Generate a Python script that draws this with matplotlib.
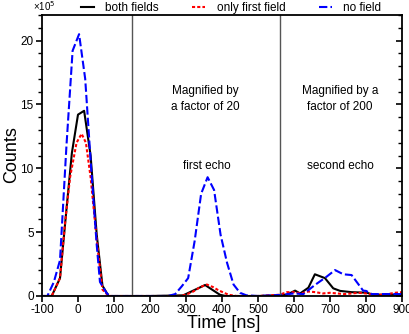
import matplotlib
matplotlib.use('Agg')
import matplotlib.pyplot as plt
from matplotlib.ticker import MultipleLocator

plt.rcParams['font.family'] = ['Liberation Sans', 'DejaVu Sans']
plt.rcParams['axes.unicode_minus'] = False

# counts in units of 1e5, echoes already magnified
t_both = [-100, -73, -50, -32, -17, 0, 17, 35, 52, 68, 85, 100, 200, 292, 353, 394, 410,
          500, 560, 580, 603, 617, 640, 658, 686, 709, 728, 760, 802, 820, 860, 900]
n_both = [0, 0, 1.4, 6.8, 11.2, 14.2, 14.5, 11.0, 4.8, 0.8, 0, 0, 0, 0.05, 0.86, 0.1, 0,
          0, 0.05, 0.1, 0.42, 0.2, 0.65, 1.7, 1.4, 0.6, 0.4, 0.3, 0.26, 0.1, 0.1, 0.1]

t_first = [-100, -73, -50, -36, -22, -4, 10, 22, 35, 52, 68, 85, 100, 200, 280, 300, 320, 340,
           358, 375, 390, 418, 440, 500, 560, 580, 600, 620, 640, 660, 680, 700, 720, 740,
           760, 780, 800, 820, 840, 860, 880, 900]
n_first = [0, 0, 1.4, 5.7, 9.3, 12.0, 12.7, 12.0, 9.3, 4.4, 0.5, 0, 0, 0, 0, 0.1, 0.35, 0.7,
           0.9, 0.7, 0.45, 0.1, 0, 0, 0.1, 0.3, 0.3, 0.2, 0.35, 0.3, 0.2, 0.25, 0.2, 0.15,
           0.2, 0.25, 0.2, 0.1, 0.1, 0.15, 0.25, 0.3]

t_none = [-100, -85, -67, -50, -32, -15, 3, 20, 37, 52, 61, 80, 90, 150, 250, 270, 288, 306,
          324, 342, 360, 378, 396, 414, 432, 450, 468, 500, 561, 600, 626, 658, 690, 714,
          737, 760, 792, 800, 816, 860, 900]
n_none = [0, 0, 1.1, 2.8, 11.8, 19.2, 20.5, 17.0, 9.8, 4.0, 1.1, 0.2, 0, 0, 0, 0.15, 0.75, 1.4,
          4.3, 8.0, 9.3, 8.3, 4.8, 2.6, 0.9, 0.25, 0.05, 0, 0.08, 0.2, 0.15, 0.86, 1.5, 2.03,
          1.7, 1.64, 0.42, 0.4, 0.15, 0.15, 0.15]

fig = plt.figure(figsize=(4.1, 3.34), dpi=100)
ax = fig.add_axes([42/410, 1 - 296/334, 360/410, 281/334])

ax.plot(t_both, n_both, color='black', lw=1.5, label='both fields')
ax.plot(t_first, n_first, color='red', lw=1.5, dashes=(1.5, 1), label='only first field')
ax.plot(t_none, n_none, color='blue', lw=1.5, dashes=(4, 1.5), label='no field')

# boundaries of magnified regions
for x in [150, 560]:
    ax.axvline(x, color='#555555', lw=1)

ax.text(353, 15.4, 'Magnified by\na factor of 20', ha='center', va='center', fontsize=8.5,
        linespacing=1.4)
ax.text(728, 15.4, 'Magnified by a\nfactor of 200', ha='center', va='center', fontsize=8.5,
        linespacing=1.4)
ax.text(358, 10.2, 'first echo', ha='center', va='center', fontsize=8.5)
ax.text(728, 10.2, 'second echo', ha='center', va='center', fontsize=8.5)

ax.set_xlim(-100, 900)
ax.set_ylim(0, 22)
ax.xaxis.set_major_locator(MultipleLocator(100))
ax.yaxis.set_major_locator(MultipleLocator(5))
ax.yaxis.set_minor_locator(MultipleLocator(1))
ax.tick_params(axis='both', labelsize=8.5, width=1.2, length=4.5, pad=1.5)
ax.tick_params(axis='y', which='minor', width=1, length=2.8)
ax.tick_params(axis='y', which='both', right=True, direction='out')
for spine in ax.spines.values():
    spine.set_linewidth(1.3)

# right-side ticks point inward
for tick in ax.yaxis.get_major_ticks() + ax.yaxis.get_minor_ticks():
    tick.tick2line.set_marker(matplotlib.lines.TICKLEFT)

fig.text(12/410, 1 - 155/334, 'Counts', rotation=90, ha='center', va='center', fontsize=13)
fig.text(224/410, 1 - 324/334, 'Time [ns]', ha='center', va='center', fontsize=13)
fig.text(33/410, 1 - 6/334, '×10$^5$', ha='left', va='center', fontsize=7)

fig.legend(loc='center', bbox_to_anchor=(231/410, 1 - 8/334), ncol=3, frameon=False,
           fontsize=8.5, handlelength=1.1, handletextpad=1.0, columnspacing=2.8,
           borderpad=0, borderaxespad=0)

fig.savefig('out.png', dpi=100)
